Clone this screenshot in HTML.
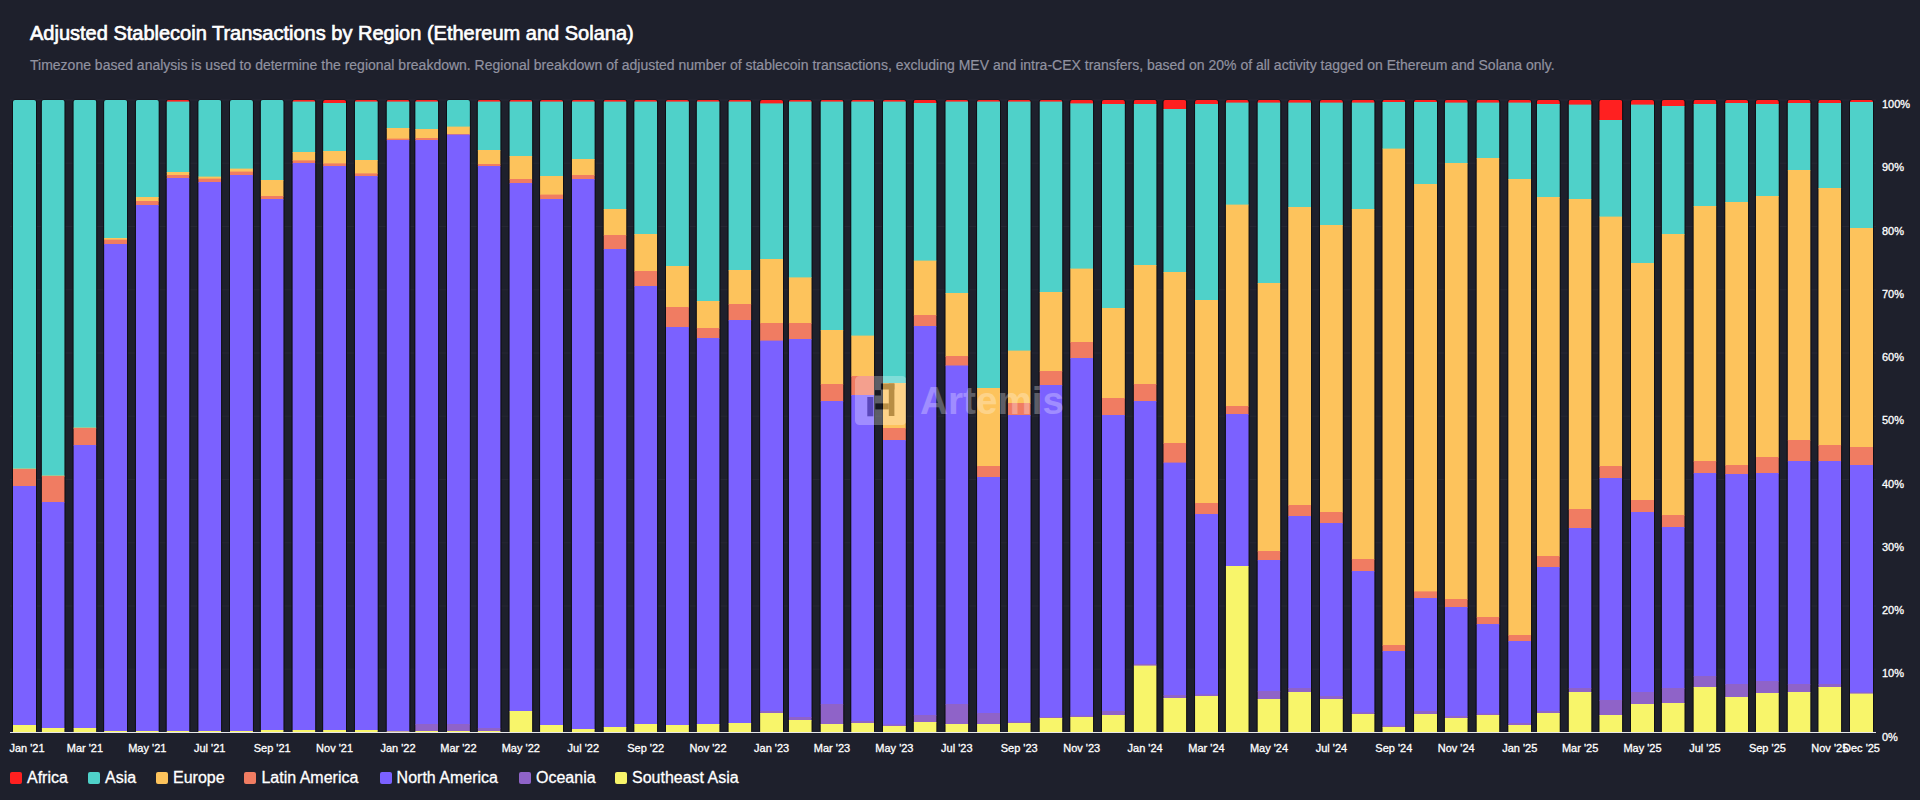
<!DOCTYPE html>
<html><head><meta charset="utf-8"><title>Adjusted Stablecoin Transactions by Region</title>
<style>
html,body{margin:0;padding:0;background:#1e202c;}
body{width:1920px;height:800px;position:relative;overflow:hidden;font-family:"Liberation Sans",Arial,Helvetica,sans-serif;color:#fff;}
.title{position:absolute;left:30px;top:21.3px;font-size:20px;line-height:24px;font-weight:400;color:#fff;white-space:nowrap;-webkit-text-stroke:0.65px #fff;}
.sub{position:absolute;left:30px;top:57px;font-size:14px;line-height:16px;color:#9192a0;white-space:nowrap;-webkit-text-stroke:0.2px #9192a0;}
.chart{position:absolute;left:0;top:0;}
.yl,.xl{font-family:"Liberation Sans",Arial,sans-serif;font-size:11px;fill:#fff;stroke:#fff;stroke-width:0.3px;}
.legend{position:absolute;left:10px;top:768px;height:20px;width:900px;font-size:16px;line-height:20px;white-space:nowrap;color:#fff;-webkit-text-stroke:0.3px #fff;}
.li{position:absolute;top:0;height:20px;display:flex;align-items:center;}
.li i{display:block;width:12px;height:12px;border-radius:2px;margin-right:5px;}
.wm{position:absolute;left:854.5px;top:376px;height:49px;display:flex;align-items:center;opacity:.28;}
.wm svg{display:block;}
.wm span{font-size:38.7px;font-weight:700;color:#fff;margin-left:14px;letter-spacing:0;}
</style></head><body>
<div class="title">Adjusted Stablecoin Transactions by Region (Ethereum and Solana)</div>
<div class="sub">Timezone based analysis is used to determine the regional breakdown. Regional breakdown of adjusted number of stablecoin transactions, excluding MEV and intra-CEX transfers, based on 20% of all activity tagged on Ethereum and Solana only.</div>
<svg class="chart" width="1920" height="800" viewBox="0 0 1920 800">
<line x1="10" x2="1876" y1="669.2" y2="669.2" stroke="#262734" stroke-width="1"/>
<line x1="10" x2="1876" y1="606.0" y2="606.0" stroke="#262734" stroke-width="1"/>
<line x1="10" x2="1876" y1="542.8" y2="542.8" stroke="#262734" stroke-width="1"/>
<line x1="10" x2="1876" y1="479.5" y2="479.5" stroke="#262734" stroke-width="1"/>
<line x1="10" x2="1876" y1="416.2" y2="416.2" stroke="#262734" stroke-width="1"/>
<line x1="10" x2="1876" y1="353.0" y2="353.0" stroke="#262734" stroke-width="1"/>
<line x1="10" x2="1876" y1="289.8" y2="289.8" stroke="#262734" stroke-width="1"/>
<line x1="10" x2="1876" y1="226.5" y2="226.5" stroke="#262734" stroke-width="1"/>
<line x1="10" x2="1876" y1="163.2" y2="163.2" stroke="#262734" stroke-width="1"/>
<line x1="10" x2="1876" y1="100.0" y2="100.0" stroke="#262734" stroke-width="1"/>
<defs>
<clipPath id="c0"><path d="M13.00 732.50 V102.00 Q13.00 100.00 15.00 100.00 H34.00 Q36.00 100.00 36.00 102.00 V732.50 Z"/></clipPath>
<clipPath id="c1"><path d="M41.66 732.50 V102.00 Q41.66 100.00 43.66 100.00 H62.66 Q64.66 100.00 64.66 102.00 V732.50 Z"/></clipPath>
<clipPath id="c2"><path d="M73.38 732.50 V102.00 Q73.38 100.00 75.38 100.00 H94.38 Q96.38 100.00 96.38 102.00 V732.50 Z"/></clipPath>
<clipPath id="c3"><path d="M104.08 732.50 V102.00 Q104.08 100.00 106.08 100.00 H125.08 Q127.08 100.00 127.08 102.00 V732.50 Z"/></clipPath>
<clipPath id="c4"><path d="M135.81 732.50 V102.00 Q135.81 100.00 137.81 100.00 H156.81 Q158.81 100.00 158.81 102.00 V732.50 Z"/></clipPath>
<clipPath id="c5"><path d="M166.51 732.50 V102.00 Q166.51 100.00 168.51 100.00 H187.51 Q189.51 100.00 189.51 102.00 V732.50 Z"/></clipPath>
<clipPath id="c6"><path d="M198.24 732.50 V102.00 Q198.24 100.00 200.24 100.00 H219.24 Q221.24 100.00 221.24 102.00 V732.50 Z"/></clipPath>
<clipPath id="c7"><path d="M229.96 732.50 V102.00 Q229.96 100.00 231.96 100.00 H250.96 Q252.96 100.00 252.96 102.00 V732.50 Z"/></clipPath>
<clipPath id="c8"><path d="M260.66 732.50 V102.00 Q260.66 100.00 262.66 100.00 H281.66 Q283.66 100.00 283.66 102.00 V732.50 Z"/></clipPath>
<clipPath id="c9"><path d="M292.39 732.50 V102.00 Q292.39 100.00 294.39 100.00 H313.39 Q315.39 100.00 315.39 102.00 V732.50 Z"/></clipPath>
<clipPath id="c10"><path d="M323.09 732.50 V102.00 Q323.09 100.00 325.09 100.00 H344.09 Q346.09 100.00 346.09 102.00 V732.50 Z"/></clipPath>
<clipPath id="c11"><path d="M354.82 732.50 V102.00 Q354.82 100.00 356.82 100.00 H375.82 Q377.82 100.00 377.82 102.00 V732.50 Z"/></clipPath>
<clipPath id="c12"><path d="M386.54 732.50 V102.00 Q386.54 100.00 388.54 100.00 H407.54 Q409.54 100.00 409.54 102.00 V732.50 Z"/></clipPath>
<clipPath id="c13"><path d="M415.20 732.50 V102.00 Q415.20 100.00 417.20 100.00 H436.20 Q438.20 100.00 438.20 102.00 V732.50 Z"/></clipPath>
<clipPath id="c14"><path d="M446.92 732.50 V102.00 Q446.92 100.00 448.92 100.00 H467.92 Q469.92 100.00 469.92 102.00 V732.50 Z"/></clipPath>
<clipPath id="c15"><path d="M477.62 732.50 V102.00 Q477.62 100.00 479.62 100.00 H498.62 Q500.62 100.00 500.62 102.00 V732.50 Z"/></clipPath>
<clipPath id="c16"><path d="M509.35 732.50 V102.00 Q509.35 100.00 511.35 100.00 H530.35 Q532.35 100.00 532.35 102.00 V732.50 Z"/></clipPath>
<clipPath id="c17"><path d="M540.05 732.50 V102.00 Q540.05 100.00 542.05 100.00 H561.05 Q563.05 100.00 563.05 102.00 V732.50 Z"/></clipPath>
<clipPath id="c18"><path d="M571.78 732.50 V102.00 Q571.78 100.00 573.78 100.00 H592.78 Q594.78 100.00 594.78 102.00 V732.50 Z"/></clipPath>
<clipPath id="c19"><path d="M603.50 732.50 V102.00 Q603.50 100.00 605.50 100.00 H624.50 Q626.50 100.00 626.50 102.00 V732.50 Z"/></clipPath>
<clipPath id="c20"><path d="M634.20 732.50 V102.00 Q634.20 100.00 636.20 100.00 H655.20 Q657.20 100.00 657.20 102.00 V732.50 Z"/></clipPath>
<clipPath id="c21"><path d="M665.93 732.50 V102.00 Q665.93 100.00 667.93 100.00 H686.93 Q688.93 100.00 688.93 102.00 V732.50 Z"/></clipPath>
<clipPath id="c22"><path d="M696.63 732.50 V102.00 Q696.63 100.00 698.63 100.00 H717.63 Q719.63 100.00 719.63 102.00 V732.50 Z"/></clipPath>
<clipPath id="c23"><path d="M728.36 732.50 V102.00 Q728.36 100.00 730.36 100.00 H749.36 Q751.36 100.00 751.36 102.00 V732.50 Z"/></clipPath>
<clipPath id="c24"><path d="M760.08 732.50 V102.00 Q760.08 100.00 762.08 100.00 H781.08 Q783.08 100.00 783.08 102.00 V732.50 Z"/></clipPath>
<clipPath id="c25"><path d="M788.74 732.50 V102.00 Q788.74 100.00 790.74 100.00 H809.74 Q811.74 100.00 811.74 102.00 V732.50 Z"/></clipPath>
<clipPath id="c26"><path d="M820.46 732.50 V102.00 Q820.46 100.00 822.46 100.00 H841.46 Q843.46 100.00 843.46 102.00 V732.50 Z"/></clipPath>
<clipPath id="c27"><path d="M851.16 732.50 V102.00 Q851.16 100.00 853.16 100.00 H872.16 Q874.16 100.00 874.16 102.00 V732.50 Z"/></clipPath>
<clipPath id="c28"><path d="M882.89 732.50 V102.00 Q882.89 100.00 884.89 100.00 H903.89 Q905.89 100.00 905.89 102.00 V732.50 Z"/></clipPath>
<clipPath id="c29"><path d="M913.59 732.50 V102.00 Q913.59 100.00 915.59 100.00 H934.59 Q936.59 100.00 936.59 102.00 V732.50 Z"/></clipPath>
<clipPath id="c30"><path d="M945.32 732.50 V102.00 Q945.32 100.00 947.32 100.00 H966.32 Q968.32 100.00 968.32 102.00 V732.50 Z"/></clipPath>
<clipPath id="c31"><path d="M977.04 732.50 V102.00 Q977.04 100.00 979.04 100.00 H998.04 Q1000.04 100.00 1000.04 102.00 V732.50 Z"/></clipPath>
<clipPath id="c32"><path d="M1007.74 732.50 V102.00 Q1007.74 100.00 1009.74 100.00 H1028.74 Q1030.74 100.00 1030.74 102.00 V732.50 Z"/></clipPath>
<clipPath id="c33"><path d="M1039.47 732.50 V102.00 Q1039.47 100.00 1041.47 100.00 H1060.47 Q1062.47 100.00 1062.47 102.00 V732.50 Z"/></clipPath>
<clipPath id="c34"><path d="M1070.17 732.50 V102.00 Q1070.17 100.00 1072.17 100.00 H1091.17 Q1093.17 100.00 1093.17 102.00 V732.50 Z"/></clipPath>
<clipPath id="c35"><path d="M1101.90 732.50 V102.00 Q1101.90 100.00 1103.90 100.00 H1122.90 Q1124.90 100.00 1124.90 102.00 V732.50 Z"/></clipPath>
<clipPath id="c36"><path d="M1133.62 732.50 V102.00 Q1133.62 100.00 1135.62 100.00 H1154.62 Q1156.62 100.00 1156.62 102.00 V732.50 Z"/></clipPath>
<clipPath id="c37"><path d="M1163.30 732.50 V102.00 Q1163.30 100.00 1165.30 100.00 H1184.30 Q1186.30 100.00 1186.30 102.00 V732.50 Z"/></clipPath>
<clipPath id="c38"><path d="M1195.03 732.50 V102.00 Q1195.03 100.00 1197.03 100.00 H1216.03 Q1218.03 100.00 1218.03 102.00 V732.50 Z"/></clipPath>
<clipPath id="c39"><path d="M1225.73 732.50 V102.00 Q1225.73 100.00 1227.73 100.00 H1246.73 Q1248.73 100.00 1248.73 102.00 V732.50 Z"/></clipPath>
<clipPath id="c40"><path d="M1257.45 732.50 V102.00 Q1257.45 100.00 1259.45 100.00 H1278.45 Q1280.45 100.00 1280.45 102.00 V732.50 Z"/></clipPath>
<clipPath id="c41"><path d="M1288.16 732.50 V102.00 Q1288.16 100.00 1290.16 100.00 H1309.16 Q1311.16 100.00 1311.16 102.00 V732.50 Z"/></clipPath>
<clipPath id="c42"><path d="M1319.88 732.50 V102.00 Q1319.88 100.00 1321.88 100.00 H1340.88 Q1342.88 100.00 1342.88 102.00 V732.50 Z"/></clipPath>
<clipPath id="c43"><path d="M1351.61 732.50 V102.00 Q1351.61 100.00 1353.61 100.00 H1372.61 Q1374.61 100.00 1374.61 102.00 V732.50 Z"/></clipPath>
<clipPath id="c44"><path d="M1382.31 732.50 V102.00 Q1382.31 100.00 1384.31 100.00 H1403.31 Q1405.31 100.00 1405.31 102.00 V732.50 Z"/></clipPath>
<clipPath id="c45"><path d="M1414.03 732.50 V102.00 Q1414.03 100.00 1416.03 100.00 H1435.03 Q1437.03 100.00 1437.03 102.00 V732.50 Z"/></clipPath>
<clipPath id="c46"><path d="M1444.74 732.50 V102.00 Q1444.74 100.00 1446.74 100.00 H1465.74 Q1467.74 100.00 1467.74 102.00 V732.50 Z"/></clipPath>
<clipPath id="c47"><path d="M1476.46 732.50 V102.00 Q1476.46 100.00 1478.46 100.00 H1497.46 Q1499.46 100.00 1499.46 102.00 V732.50 Z"/></clipPath>
<clipPath id="c48"><path d="M1508.19 732.50 V102.00 Q1508.19 100.00 1510.19 100.00 H1529.19 Q1531.19 100.00 1531.19 102.00 V732.50 Z"/></clipPath>
<clipPath id="c49"><path d="M1536.84 732.50 V102.00 Q1536.84 100.00 1538.84 100.00 H1557.84 Q1559.84 100.00 1559.84 102.00 V732.50 Z"/></clipPath>
<clipPath id="c50"><path d="M1568.57 732.50 V102.00 Q1568.57 100.00 1570.57 100.00 H1589.57 Q1591.57 100.00 1591.57 102.00 V732.50 Z"/></clipPath>
<clipPath id="c51"><path d="M1599.27 732.50 V102.00 Q1599.27 100.00 1601.27 100.00 H1620.27 Q1622.27 100.00 1622.27 102.00 V732.50 Z"/></clipPath>
<clipPath id="c52"><path d="M1631.00 732.50 V102.00 Q1631.00 100.00 1633.00 100.00 H1652.00 Q1654.00 100.00 1654.00 102.00 V732.50 Z"/></clipPath>
<clipPath id="c53"><path d="M1661.70 732.50 V102.00 Q1661.70 100.00 1663.70 100.00 H1682.70 Q1684.70 100.00 1684.70 102.00 V732.50 Z"/></clipPath>
<clipPath id="c54"><path d="M1693.42 732.50 V102.00 Q1693.42 100.00 1695.42 100.00 H1714.42 Q1716.42 100.00 1716.42 102.00 V732.50 Z"/></clipPath>
<clipPath id="c55"><path d="M1725.15 732.50 V102.00 Q1725.15 100.00 1727.15 100.00 H1746.15 Q1748.15 100.00 1748.15 102.00 V732.50 Z"/></clipPath>
<clipPath id="c56"><path d="M1755.85 732.50 V102.00 Q1755.85 100.00 1757.85 100.00 H1776.85 Q1778.85 100.00 1778.85 102.00 V732.50 Z"/></clipPath>
<clipPath id="c57"><path d="M1787.58 732.50 V102.00 Q1787.58 100.00 1789.58 100.00 H1808.58 Q1810.58 100.00 1810.58 102.00 V732.50 Z"/></clipPath>
<clipPath id="c58"><path d="M1818.28 732.50 V102.00 Q1818.28 100.00 1820.28 100.00 H1839.28 Q1841.28 100.00 1841.28 102.00 V732.50 Z"/></clipPath>
<clipPath id="c59"><path d="M1850.00 732.50 V102.00 Q1850.00 100.00 1852.00 100.00 H1871.00 Q1873.00 100.00 1873.00 102.00 V732.50 Z"/></clipPath>
</defs>
<rect x="12.10" y="99.40" width="24.80" height="633.10" rx="3" fill="#0f0f15"/>
<g clip-path="url(#c0)">
<rect x="13.00" y="100.00" width="23" height="369.20" fill="#4fd1c9"/>
<rect x="13.00" y="468.60" width="23" height="1.00" fill="#fdc35c"/>
<rect x="13.00" y="469.00" width="23" height="17.60" fill="#f07c62"/>
<rect x="13.00" y="486.00" width="23" height="239.60" fill="#7b61ff"/>
<rect x="13.00" y="725.00" width="23" height="7.50" fill="#f8f56a"/>
</g>
<rect x="40.76" y="99.40" width="24.80" height="633.10" rx="3" fill="#0f0f15"/>
<g clip-path="url(#c1)">
<rect x="41.66" y="100.00" width="23" height="376.20" fill="#4fd1c9"/>
<rect x="41.66" y="475.60" width="23" height="1.00" fill="#fdc35c"/>
<rect x="41.66" y="476.00" width="23" height="26.60" fill="#f07c62"/>
<rect x="41.66" y="502.00" width="23" height="226.60" fill="#7b61ff"/>
<rect x="41.66" y="728.00" width="23" height="4.50" fill="#f8f56a"/>
</g>
<rect x="72.48" y="99.40" width="24.80" height="633.10" rx="3" fill="#0f0f15"/>
<g clip-path="url(#c2)">
<rect x="73.38" y="100.00" width="23" height="328.20" fill="#4fd1c9"/>
<rect x="73.38" y="427.60" width="23" height="1.00" fill="#fdc35c"/>
<rect x="73.38" y="428.00" width="23" height="17.60" fill="#f07c62"/>
<rect x="73.38" y="445.00" width="23" height="283.60" fill="#7b61ff"/>
<rect x="73.38" y="728.00" width="23" height="4.50" fill="#f8f56a"/>
</g>
<rect x="103.18" y="99.40" width="24.80" height="633.10" rx="3" fill="#0f0f15"/>
<g clip-path="url(#c3)">
<rect x="104.08" y="100.00" width="23" height="138.60" fill="#4fd1c9"/>
<rect x="104.08" y="238.00" width="23" height="2.20" fill="#fdc35c"/>
<rect x="104.08" y="239.60" width="23" height="5.00" fill="#f07c62"/>
<rect x="104.08" y="244.00" width="23" height="487.60" fill="#7b61ff"/>
<rect x="104.08" y="731.00" width="23" height="1.50" fill="#f8f56a"/>
</g>
<rect x="134.91" y="99.40" width="24.80" height="633.10" rx="3" fill="#0f0f15"/>
<g clip-path="url(#c4)">
<rect x="135.81" y="100.00" width="23" height="97.60" fill="#4fd1c9"/>
<rect x="135.81" y="197.00" width="23" height="4.60" fill="#fdc35c"/>
<rect x="135.81" y="201.00" width="23" height="4.60" fill="#f07c62"/>
<rect x="135.81" y="205.00" width="23" height="526.60" fill="#7b61ff"/>
<rect x="135.81" y="731.00" width="23" height="1.50" fill="#f8f56a"/>
</g>
<rect x="165.61" y="99.40" width="24.80" height="633.10" rx="3" fill="#0f0f15"/>
<g clip-path="url(#c5)">
<rect x="166.51" y="100.00" width="23" height="2.20" fill="#ff2020"/>
<rect x="166.51" y="101.60" width="23" height="71.00" fill="#4fd1c9"/>
<rect x="166.51" y="172.00" width="23" height="3.60" fill="#fdc35c"/>
<rect x="166.51" y="175.00" width="23" height="3.60" fill="#f07c62"/>
<rect x="166.51" y="178.00" width="23" height="553.60" fill="#7b61ff"/>
<rect x="166.51" y="731.00" width="23" height="1.50" fill="#f8f56a"/>
</g>
<rect x="197.34" y="99.40" width="24.80" height="633.10" rx="3" fill="#0f0f15"/>
<g clip-path="url(#c6)">
<rect x="198.24" y="100.00" width="23" height="77.20" fill="#4fd1c9"/>
<rect x="198.24" y="176.60" width="23" height="2.60" fill="#fdc35c"/>
<rect x="198.24" y="178.60" width="23" height="4.00" fill="#f07c62"/>
<rect x="198.24" y="182.00" width="23" height="549.60" fill="#7b61ff"/>
<rect x="198.24" y="731.00" width="23" height="1.50" fill="#f8f56a"/>
</g>
<rect x="229.06" y="99.40" width="24.80" height="633.10" rx="3" fill="#0f0f15"/>
<g clip-path="url(#c7)">
<rect x="229.96" y="100.00" width="23" height="69.20" fill="#4fd1c9"/>
<rect x="229.96" y="168.60" width="23" height="3.60" fill="#fdc35c"/>
<rect x="229.96" y="171.60" width="23" height="4.00" fill="#f07c62"/>
<rect x="229.96" y="175.00" width="23" height="556.60" fill="#7b61ff"/>
<rect x="229.96" y="731.00" width="23" height="1.50" fill="#f8f56a"/>
</g>
<rect x="259.76" y="99.40" width="24.80" height="633.10" rx="3" fill="#0f0f15"/>
<g clip-path="url(#c8)">
<rect x="260.66" y="100.00" width="23" height="80.60" fill="#4fd1c9"/>
<rect x="260.66" y="180.00" width="23" height="16.60" fill="#fdc35c"/>
<rect x="260.66" y="196.00" width="23" height="3.60" fill="#f07c62"/>
<rect x="260.66" y="199.00" width="23" height="531.60" fill="#7b61ff"/>
<rect x="260.66" y="730.00" width="23" height="2.50" fill="#f8f56a"/>
</g>
<rect x="291.49" y="99.40" width="24.80" height="633.10" rx="3" fill="#0f0f15"/>
<g clip-path="url(#c9)">
<rect x="292.39" y="100.00" width="23" height="2.20" fill="#ff2020"/>
<rect x="292.39" y="101.60" width="23" height="51.00" fill="#4fd1c9"/>
<rect x="292.39" y="152.00" width="23" height="9.00" fill="#fdc35c"/>
<rect x="292.39" y="160.40" width="23" height="3.20" fill="#f07c62"/>
<rect x="292.39" y="163.00" width="23" height="567.60" fill="#7b61ff"/>
<rect x="292.39" y="730.00" width="23" height="2.50" fill="#f8f56a"/>
</g>
<rect x="322.19" y="99.40" width="24.80" height="633.10" rx="3" fill="#0f0f15"/>
<g clip-path="url(#c10)">
<rect x="323.09" y="100.00" width="23" height="3.60" fill="#ff2020"/>
<rect x="323.09" y="103.00" width="23" height="48.60" fill="#4fd1c9"/>
<rect x="323.09" y="151.00" width="23" height="13.00" fill="#fdc35c"/>
<rect x="323.09" y="163.40" width="23" height="3.20" fill="#f07c62"/>
<rect x="323.09" y="166.00" width="23" height="564.60" fill="#7b61ff"/>
<rect x="323.09" y="730.00" width="23" height="2.50" fill="#f8f56a"/>
</g>
<rect x="353.92" y="99.40" width="24.80" height="633.10" rx="3" fill="#0f0f15"/>
<g clip-path="url(#c11)">
<rect x="354.82" y="100.00" width="23" height="2.20" fill="#ff2020"/>
<rect x="354.82" y="101.60" width="23" height="59.00" fill="#4fd1c9"/>
<rect x="354.82" y="160.00" width="23" height="14.00" fill="#fdc35c"/>
<rect x="354.82" y="173.40" width="23" height="3.20" fill="#f07c62"/>
<rect x="354.82" y="176.00" width="23" height="554.60" fill="#7b61ff"/>
<rect x="354.82" y="730.00" width="23" height="2.50" fill="#f8f56a"/>
</g>
<rect x="385.64" y="99.40" width="24.80" height="633.10" rx="3" fill="#0f0f15"/>
<g clip-path="url(#c12)">
<rect x="386.54" y="100.00" width="23" height="2.20" fill="#ff2020"/>
<rect x="386.54" y="101.60" width="23" height="27.00" fill="#4fd1c9"/>
<rect x="386.54" y="128.00" width="23" height="11.20" fill="#fdc35c"/>
<rect x="386.54" y="138.60" width="23" height="2.00" fill="#f07c62"/>
<rect x="386.54" y="140.00" width="23" height="591.60" fill="#7b61ff"/>
<rect x="386.54" y="731.00" width="23" height="1.10" fill="#8f63c8"/>
<rect x="386.54" y="731.50" width="23" height="1.00" fill="#f8f56a"/>
</g>
<rect x="414.30" y="99.40" width="24.80" height="633.10" rx="3" fill="#0f0f15"/>
<g clip-path="url(#c13)">
<rect x="415.20" y="100.00" width="23" height="2.20" fill="#ff2020"/>
<rect x="415.20" y="101.60" width="23" height="28.00" fill="#4fd1c9"/>
<rect x="415.20" y="129.00" width="23" height="9.60" fill="#fdc35c"/>
<rect x="415.20" y="138.00" width="23" height="2.60" fill="#f07c62"/>
<rect x="415.20" y="140.00" width="23" height="584.60" fill="#7b61ff"/>
<rect x="415.20" y="724.00" width="23" height="7.60" fill="#8f63c8"/>
<rect x="415.20" y="731.00" width="23" height="1.50" fill="#f8f56a"/>
</g>
<rect x="446.02" y="99.40" width="24.80" height="633.10" rx="3" fill="#0f0f15"/>
<g clip-path="url(#c14)">
<rect x="446.92" y="100.00" width="23" height="27.20" fill="#4fd1c9"/>
<rect x="446.92" y="126.60" width="23" height="8.00" fill="#fdc35c"/>
<rect x="446.92" y="134.00" width="23" height="1.20" fill="#f07c62"/>
<rect x="446.92" y="134.60" width="23" height="590.00" fill="#7b61ff"/>
<rect x="446.92" y="724.00" width="23" height="7.60" fill="#8f63c8"/>
<rect x="446.92" y="731.00" width="23" height="1.50" fill="#f8f56a"/>
</g>
<rect x="476.72" y="99.40" width="24.80" height="633.10" rx="3" fill="#0f0f15"/>
<g clip-path="url(#c15)">
<rect x="477.62" y="100.00" width="23" height="2.20" fill="#ff2020"/>
<rect x="477.62" y="101.60" width="23" height="49.00" fill="#4fd1c9"/>
<rect x="477.62" y="150.00" width="23" height="14.60" fill="#fdc35c"/>
<rect x="477.62" y="164.00" width="23" height="2.60" fill="#f07c62"/>
<rect x="477.62" y="166.00" width="23" height="562.60" fill="#7b61ff"/>
<rect x="477.62" y="728.00" width="23" height="3.60" fill="#8f63c8"/>
<rect x="477.62" y="731.00" width="23" height="1.50" fill="#f8f56a"/>
</g>
<rect x="508.45" y="99.40" width="24.80" height="633.10" rx="3" fill="#0f0f15"/>
<g clip-path="url(#c16)">
<rect x="509.35" y="100.00" width="23" height="2.20" fill="#ff2020"/>
<rect x="509.35" y="101.60" width="23" height="55.00" fill="#4fd1c9"/>
<rect x="509.35" y="156.00" width="23" height="23.60" fill="#fdc35c"/>
<rect x="509.35" y="179.00" width="23" height="4.60" fill="#f07c62"/>
<rect x="509.35" y="183.00" width="23" height="528.60" fill="#7b61ff"/>
<rect x="509.35" y="711.00" width="23" height="21.50" fill="#f8f56a"/>
</g>
<rect x="539.15" y="99.40" width="24.80" height="633.10" rx="3" fill="#0f0f15"/>
<g clip-path="url(#c17)">
<rect x="540.05" y="100.00" width="23" height="2.20" fill="#ff2020"/>
<rect x="540.05" y="101.60" width="23" height="75.00" fill="#4fd1c9"/>
<rect x="540.05" y="176.00" width="23" height="19.20" fill="#fdc35c"/>
<rect x="540.05" y="194.60" width="23" height="5.00" fill="#f07c62"/>
<rect x="540.05" y="199.00" width="23" height="526.60" fill="#7b61ff"/>
<rect x="540.05" y="725.00" width="23" height="7.50" fill="#f8f56a"/>
</g>
<rect x="570.88" y="99.40" width="24.80" height="633.10" rx="3" fill="#0f0f15"/>
<g clip-path="url(#c18)">
<rect x="571.78" y="100.00" width="23" height="2.20" fill="#ff2020"/>
<rect x="571.78" y="101.60" width="23" height="58.00" fill="#4fd1c9"/>
<rect x="571.78" y="159.00" width="23" height="16.60" fill="#fdc35c"/>
<rect x="571.78" y="175.00" width="23" height="4.60" fill="#f07c62"/>
<rect x="571.78" y="179.00" width="23" height="550.60" fill="#7b61ff"/>
<rect x="571.78" y="729.00" width="23" height="3.50" fill="#f8f56a"/>
</g>
<rect x="602.60" y="99.40" width="24.80" height="633.10" rx="3" fill="#0f0f15"/>
<g clip-path="url(#c19)">
<rect x="603.50" y="100.00" width="23" height="2.20" fill="#ff2020"/>
<rect x="603.50" y="101.60" width="23" height="108.00" fill="#4fd1c9"/>
<rect x="603.50" y="209.00" width="23" height="26.60" fill="#fdc35c"/>
<rect x="603.50" y="235.00" width="23" height="14.60" fill="#f07c62"/>
<rect x="603.50" y="249.00" width="23" height="478.60" fill="#7b61ff"/>
<rect x="603.50" y="727.00" width="23" height="5.50" fill="#f8f56a"/>
</g>
<rect x="633.30" y="99.40" width="24.80" height="633.10" rx="3" fill="#0f0f15"/>
<g clip-path="url(#c20)">
<rect x="634.20" y="100.00" width="23" height="2.20" fill="#ff2020"/>
<rect x="634.20" y="101.60" width="23" height="133.00" fill="#4fd1c9"/>
<rect x="634.20" y="234.00" width="23" height="37.60" fill="#fdc35c"/>
<rect x="634.20" y="271.00" width="23" height="15.60" fill="#f07c62"/>
<rect x="634.20" y="286.00" width="23" height="438.60" fill="#7b61ff"/>
<rect x="634.20" y="724.00" width="23" height="8.50" fill="#f8f56a"/>
</g>
<rect x="665.03" y="99.40" width="24.80" height="633.10" rx="3" fill="#0f0f15"/>
<g clip-path="url(#c21)">
<rect x="665.93" y="100.00" width="23" height="2.20" fill="#ff2020"/>
<rect x="665.93" y="101.60" width="23" height="165.00" fill="#4fd1c9"/>
<rect x="665.93" y="266.00" width="23" height="41.60" fill="#fdc35c"/>
<rect x="665.93" y="307.00" width="23" height="20.60" fill="#f07c62"/>
<rect x="665.93" y="327.00" width="23" height="398.60" fill="#7b61ff"/>
<rect x="665.93" y="725.00" width="23" height="7.50" fill="#f8f56a"/>
</g>
<rect x="695.73" y="99.40" width="24.80" height="633.10" rx="3" fill="#0f0f15"/>
<g clip-path="url(#c22)">
<rect x="696.63" y="100.00" width="23" height="2.20" fill="#ff2020"/>
<rect x="696.63" y="101.60" width="23" height="200.00" fill="#4fd1c9"/>
<rect x="696.63" y="301.00" width="23" height="27.60" fill="#fdc35c"/>
<rect x="696.63" y="328.00" width="23" height="10.60" fill="#f07c62"/>
<rect x="696.63" y="338.00" width="23" height="386.60" fill="#7b61ff"/>
<rect x="696.63" y="724.00" width="23" height="8.50" fill="#f8f56a"/>
</g>
<rect x="727.46" y="99.40" width="24.80" height="633.10" rx="3" fill="#0f0f15"/>
<g clip-path="url(#c23)">
<rect x="728.36" y="100.00" width="23" height="2.20" fill="#ff2020"/>
<rect x="728.36" y="101.60" width="23" height="169.00" fill="#4fd1c9"/>
<rect x="728.36" y="270.00" width="23" height="34.60" fill="#fdc35c"/>
<rect x="728.36" y="304.00" width="23" height="16.60" fill="#f07c62"/>
<rect x="728.36" y="320.00" width="23" height="403.60" fill="#7b61ff"/>
<rect x="728.36" y="723.00" width="23" height="9.50" fill="#f8f56a"/>
</g>
<rect x="759.18" y="99.40" width="24.80" height="633.10" rx="3" fill="#0f0f15"/>
<g clip-path="url(#c24)">
<rect x="760.08" y="100.00" width="23" height="4.00" fill="#ff2020"/>
<rect x="760.08" y="103.40" width="23" height="156.20" fill="#4fd1c9"/>
<rect x="760.08" y="259.00" width="23" height="64.60" fill="#fdc35c"/>
<rect x="760.08" y="323.00" width="23" height="18.20" fill="#f07c62"/>
<rect x="760.08" y="340.60" width="23" height="371.00" fill="#7b61ff"/>
<rect x="760.08" y="711.00" width="23" height="2.60" fill="#8f63c8"/>
<rect x="760.08" y="713.00" width="23" height="19.50" fill="#f8f56a"/>
</g>
<rect x="787.84" y="99.40" width="24.80" height="633.10" rx="3" fill="#0f0f15"/>
<g clip-path="url(#c25)">
<rect x="788.74" y="100.00" width="23" height="2.20" fill="#ff2020"/>
<rect x="788.74" y="101.60" width="23" height="176.40" fill="#4fd1c9"/>
<rect x="788.74" y="277.40" width="23" height="46.20" fill="#fdc35c"/>
<rect x="788.74" y="323.00" width="23" height="16.60" fill="#f07c62"/>
<rect x="788.74" y="339.00" width="23" height="378.60" fill="#7b61ff"/>
<rect x="788.74" y="717.00" width="23" height="3.60" fill="#8f63c8"/>
<rect x="788.74" y="720.00" width="23" height="12.50" fill="#f8f56a"/>
</g>
<rect x="819.56" y="99.40" width="24.80" height="633.10" rx="3" fill="#0f0f15"/>
<g clip-path="url(#c26)">
<rect x="820.46" y="100.00" width="23" height="2.20" fill="#ff2020"/>
<rect x="820.46" y="101.60" width="23" height="229.00" fill="#4fd1c9"/>
<rect x="820.46" y="330.00" width="23" height="54.60" fill="#fdc35c"/>
<rect x="820.46" y="384.00" width="23" height="17.60" fill="#f07c62"/>
<rect x="820.46" y="401.00" width="23" height="303.60" fill="#7b61ff"/>
<rect x="820.46" y="704.00" width="23" height="20.60" fill="#8f63c8"/>
<rect x="820.46" y="724.00" width="23" height="8.50" fill="#f8f56a"/>
</g>
<rect x="850.26" y="99.40" width="24.80" height="633.10" rx="3" fill="#0f0f15"/>
<g clip-path="url(#c27)">
<rect x="851.16" y="100.00" width="23" height="2.20" fill="#ff2020"/>
<rect x="851.16" y="101.60" width="23" height="234.60" fill="#4fd1c9"/>
<rect x="851.16" y="335.60" width="23" height="41.00" fill="#fdc35c"/>
<rect x="851.16" y="376.00" width="23" height="19.60" fill="#f07c62"/>
<rect x="851.16" y="395.00" width="23" height="326.60" fill="#7b61ff"/>
<rect x="851.16" y="721.00" width="23" height="2.60" fill="#8f63c8"/>
<rect x="851.16" y="723.00" width="23" height="9.50" fill="#f8f56a"/>
</g>
<rect x="881.99" y="99.40" width="24.80" height="633.10" rx="3" fill="#0f0f15"/>
<g clip-path="url(#c28)">
<rect x="882.89" y="100.00" width="23" height="2.20" fill="#ff2020"/>
<rect x="882.89" y="101.60" width="23" height="282.00" fill="#4fd1c9"/>
<rect x="882.89" y="383.00" width="23" height="45.60" fill="#fdc35c"/>
<rect x="882.89" y="428.00" width="23" height="12.60" fill="#f07c62"/>
<rect x="882.89" y="440.00" width="23" height="285.10" fill="#7b61ff"/>
<rect x="882.89" y="724.50" width="23" height="2.10" fill="#8f63c8"/>
<rect x="882.89" y="726.00" width="23" height="6.50" fill="#f8f56a"/>
</g>
<rect x="912.69" y="99.40" width="24.80" height="633.10" rx="3" fill="#0f0f15"/>
<g clip-path="url(#c29)">
<rect x="913.59" y="100.00" width="23" height="3.60" fill="#ff2020"/>
<rect x="913.59" y="103.00" width="23" height="158.20" fill="#4fd1c9"/>
<rect x="913.59" y="260.60" width="23" height="55.00" fill="#fdc35c"/>
<rect x="913.59" y="315.00" width="23" height="11.60" fill="#f07c62"/>
<rect x="913.59" y="326.00" width="23" height="389.60" fill="#7b61ff"/>
<rect x="913.59" y="715.00" width="23" height="7.60" fill="#8f63c8"/>
<rect x="913.59" y="722.00" width="23" height="10.50" fill="#f8f56a"/>
</g>
<rect x="944.42" y="99.40" width="24.80" height="633.10" rx="3" fill="#0f0f15"/>
<g clip-path="url(#c30)">
<rect x="945.32" y="100.00" width="23" height="2.20" fill="#ff2020"/>
<rect x="945.32" y="101.60" width="23" height="192.00" fill="#4fd1c9"/>
<rect x="945.32" y="293.00" width="23" height="63.60" fill="#fdc35c"/>
<rect x="945.32" y="356.00" width="23" height="10.10" fill="#f07c62"/>
<rect x="945.32" y="365.50" width="23" height="339.10" fill="#7b61ff"/>
<rect x="945.32" y="704.00" width="23" height="20.60" fill="#8f63c8"/>
<rect x="945.32" y="724.00" width="23" height="8.50" fill="#f8f56a"/>
</g>
<rect x="976.14" y="99.40" width="24.80" height="633.10" rx="3" fill="#0f0f15"/>
<g clip-path="url(#c31)">
<rect x="977.04" y="100.00" width="23" height="2.20" fill="#ff2020"/>
<rect x="977.04" y="101.60" width="23" height="287.00" fill="#4fd1c9"/>
<rect x="977.04" y="388.00" width="23" height="78.60" fill="#fdc35c"/>
<rect x="977.04" y="466.00" width="23" height="11.60" fill="#f07c62"/>
<rect x="977.04" y="477.00" width="23" height="236.60" fill="#7b61ff"/>
<rect x="977.04" y="713.00" width="23" height="11.60" fill="#8f63c8"/>
<rect x="977.04" y="724.00" width="23" height="8.50" fill="#f8f56a"/>
</g>
<rect x="1006.84" y="99.40" width="24.80" height="633.10" rx="3" fill="#0f0f15"/>
<g clip-path="url(#c32)">
<rect x="1007.74" y="100.00" width="23" height="2.20" fill="#ff2020"/>
<rect x="1007.74" y="101.60" width="23" height="249.60" fill="#4fd1c9"/>
<rect x="1007.74" y="350.60" width="23" height="53.00" fill="#fdc35c"/>
<rect x="1007.74" y="403.00" width="23" height="12.60" fill="#f07c62"/>
<rect x="1007.74" y="415.00" width="23" height="307.20" fill="#7b61ff"/>
<rect x="1007.74" y="721.60" width="23" height="2.00" fill="#8f63c8"/>
<rect x="1007.74" y="723.00" width="23" height="9.50" fill="#f8f56a"/>
</g>
<rect x="1038.57" y="99.40" width="24.80" height="633.10" rx="3" fill="#0f0f15"/>
<g clip-path="url(#c33)">
<rect x="1039.47" y="100.00" width="23" height="2.20" fill="#ff2020"/>
<rect x="1039.47" y="101.60" width="23" height="191.00" fill="#4fd1c9"/>
<rect x="1039.47" y="292.00" width="23" height="79.60" fill="#fdc35c"/>
<rect x="1039.47" y="371.00" width="23" height="14.60" fill="#f07c62"/>
<rect x="1039.47" y="385.00" width="23" height="332.60" fill="#7b61ff"/>
<rect x="1039.47" y="717.00" width="23" height="1.60" fill="#8f63c8"/>
<rect x="1039.47" y="718.00" width="23" height="14.50" fill="#f8f56a"/>
</g>
<rect x="1069.27" y="99.40" width="24.80" height="633.10" rx="3" fill="#0f0f15"/>
<g clip-path="url(#c34)">
<rect x="1070.17" y="100.00" width="23" height="4.00" fill="#ff2020"/>
<rect x="1070.17" y="103.40" width="23" height="165.80" fill="#4fd1c9"/>
<rect x="1070.17" y="268.60" width="23" height="74.00" fill="#fdc35c"/>
<rect x="1070.17" y="342.00" width="23" height="16.60" fill="#f07c62"/>
<rect x="1070.17" y="358.00" width="23" height="358.20" fill="#7b61ff"/>
<rect x="1070.17" y="715.60" width="23" height="2.00" fill="#8f63c8"/>
<rect x="1070.17" y="717.00" width="23" height="15.50" fill="#f8f56a"/>
</g>
<rect x="1101.00" y="99.40" width="24.80" height="633.10" rx="3" fill="#0f0f15"/>
<g clip-path="url(#c35)">
<rect x="1101.90" y="100.00" width="23" height="4.60" fill="#ff2020"/>
<rect x="1101.90" y="104.00" width="23" height="204.60" fill="#4fd1c9"/>
<rect x="1101.90" y="308.00" width="23" height="90.60" fill="#fdc35c"/>
<rect x="1101.90" y="398.00" width="23" height="17.60" fill="#f07c62"/>
<rect x="1101.90" y="415.00" width="23" height="296.60" fill="#7b61ff"/>
<rect x="1101.90" y="711.00" width="23" height="4.60" fill="#8f63c8"/>
<rect x="1101.90" y="715.00" width="23" height="17.50" fill="#f8f56a"/>
</g>
<rect x="1132.72" y="99.40" width="24.80" height="633.10" rx="3" fill="#0f0f15"/>
<g clip-path="url(#c36)">
<rect x="1133.62" y="100.00" width="23" height="4.60" fill="#ff2020"/>
<rect x="1133.62" y="104.00" width="23" height="161.60" fill="#4fd1c9"/>
<rect x="1133.62" y="265.00" width="23" height="119.60" fill="#fdc35c"/>
<rect x="1133.62" y="384.00" width="23" height="17.60" fill="#f07c62"/>
<rect x="1133.62" y="401.00" width="23" height="263.60" fill="#7b61ff"/>
<rect x="1133.62" y="664.00" width="23" height="2.20" fill="#8f63c8"/>
<rect x="1133.62" y="665.60" width="23" height="66.90" fill="#f8f56a"/>
</g>
<rect x="1162.40" y="99.40" width="24.80" height="633.10" rx="3" fill="#0f0f15"/>
<g clip-path="url(#c37)">
<rect x="1163.30" y="100.00" width="23" height="9.60" fill="#ff2020"/>
<rect x="1163.30" y="109.00" width="23" height="163.60" fill="#4fd1c9"/>
<rect x="1163.30" y="272.00" width="23" height="171.60" fill="#fdc35c"/>
<rect x="1163.30" y="443.00" width="23" height="20.20" fill="#f07c62"/>
<rect x="1163.30" y="462.60" width="23" height="233.00" fill="#7b61ff"/>
<rect x="1163.30" y="695.00" width="23" height="3.60" fill="#8f63c8"/>
<rect x="1163.30" y="698.00" width="23" height="34.50" fill="#f8f56a"/>
</g>
<rect x="1194.13" y="99.40" width="24.80" height="633.10" rx="3" fill="#0f0f15"/>
<g clip-path="url(#c38)">
<rect x="1195.03" y="100.00" width="23" height="4.60" fill="#ff2020"/>
<rect x="1195.03" y="104.00" width="23" height="196.60" fill="#4fd1c9"/>
<rect x="1195.03" y="300.00" width="23" height="203.60" fill="#fdc35c"/>
<rect x="1195.03" y="503.00" width="23" height="11.60" fill="#f07c62"/>
<rect x="1195.03" y="514.00" width="23" height="181.00" fill="#7b61ff"/>
<rect x="1195.03" y="694.40" width="23" height="2.20" fill="#8f63c8"/>
<rect x="1195.03" y="696.00" width="23" height="36.50" fill="#f8f56a"/>
</g>
<rect x="1224.83" y="99.40" width="24.80" height="633.10" rx="3" fill="#0f0f15"/>
<g clip-path="url(#c39)">
<rect x="1225.73" y="100.00" width="23" height="3.20" fill="#ff2020"/>
<rect x="1225.73" y="102.60" width="23" height="102.60" fill="#4fd1c9"/>
<rect x="1225.73" y="204.60" width="23" height="202.00" fill="#fdc35c"/>
<rect x="1225.73" y="406.00" width="23" height="8.60" fill="#f07c62"/>
<rect x="1225.73" y="414.00" width="23" height="152.60" fill="#7b61ff"/>
<rect x="1225.73" y="566.00" width="23" height="166.50" fill="#f8f56a"/>
</g>
<rect x="1256.55" y="99.40" width="24.80" height="633.10" rx="3" fill="#0f0f15"/>
<g clip-path="url(#c40)">
<rect x="1257.45" y="100.00" width="23" height="3.20" fill="#ff2020"/>
<rect x="1257.45" y="102.60" width="23" height="181.00" fill="#4fd1c9"/>
<rect x="1257.45" y="283.00" width="23" height="268.60" fill="#fdc35c"/>
<rect x="1257.45" y="551.00" width="23" height="9.60" fill="#f07c62"/>
<rect x="1257.45" y="560.00" width="23" height="131.60" fill="#7b61ff"/>
<rect x="1257.45" y="691.00" width="23" height="8.60" fill="#8f63c8"/>
<rect x="1257.45" y="699.00" width="23" height="33.50" fill="#f8f56a"/>
</g>
<rect x="1287.26" y="99.40" width="24.80" height="633.10" rx="3" fill="#0f0f15"/>
<g clip-path="url(#c41)">
<rect x="1288.16" y="100.00" width="23" height="3.20" fill="#ff2020"/>
<rect x="1288.16" y="102.60" width="23" height="105.00" fill="#4fd1c9"/>
<rect x="1288.16" y="207.00" width="23" height="298.60" fill="#fdc35c"/>
<rect x="1288.16" y="505.00" width="23" height="11.60" fill="#f07c62"/>
<rect x="1288.16" y="516.00" width="23" height="172.60" fill="#7b61ff"/>
<rect x="1288.16" y="688.00" width="23" height="4.60" fill="#8f63c8"/>
<rect x="1288.16" y="692.00" width="23" height="40.50" fill="#f8f56a"/>
</g>
<rect x="1318.98" y="99.40" width="24.80" height="633.10" rx="3" fill="#0f0f15"/>
<g clip-path="url(#c42)">
<rect x="1319.88" y="100.00" width="23" height="3.20" fill="#ff2020"/>
<rect x="1319.88" y="102.60" width="23" height="123.00" fill="#4fd1c9"/>
<rect x="1319.88" y="225.00" width="23" height="287.60" fill="#fdc35c"/>
<rect x="1319.88" y="512.00" width="23" height="11.60" fill="#f07c62"/>
<rect x="1319.88" y="523.00" width="23" height="173.60" fill="#7b61ff"/>
<rect x="1319.88" y="696.00" width="23" height="3.60" fill="#8f63c8"/>
<rect x="1319.88" y="699.00" width="23" height="33.50" fill="#f8f56a"/>
</g>
<rect x="1350.71" y="99.40" width="24.80" height="633.10" rx="3" fill="#0f0f15"/>
<g clip-path="url(#c43)">
<rect x="1351.61" y="100.00" width="23" height="3.20" fill="#ff2020"/>
<rect x="1351.61" y="102.60" width="23" height="107.00" fill="#4fd1c9"/>
<rect x="1351.61" y="209.00" width="23" height="350.60" fill="#fdc35c"/>
<rect x="1351.61" y="559.00" width="23" height="12.60" fill="#f07c62"/>
<rect x="1351.61" y="571.00" width="23" height="142.00" fill="#7b61ff"/>
<rect x="1351.61" y="712.40" width="23" height="2.20" fill="#8f63c8"/>
<rect x="1351.61" y="714.00" width="23" height="18.50" fill="#f8f56a"/>
</g>
<rect x="1381.41" y="99.40" width="24.80" height="633.10" rx="3" fill="#0f0f15"/>
<g clip-path="url(#c44)">
<rect x="1382.31" y="100.00" width="23" height="2.60" fill="#ff2020"/>
<rect x="1382.31" y="102.00" width="23" height="47.20" fill="#4fd1c9"/>
<rect x="1382.31" y="148.60" width="23" height="497.00" fill="#fdc35c"/>
<rect x="1382.31" y="645.00" width="23" height="6.60" fill="#f07c62"/>
<rect x="1382.31" y="651.00" width="23" height="75.20" fill="#7b61ff"/>
<rect x="1382.31" y="725.60" width="23" height="2.00" fill="#8f63c8"/>
<rect x="1382.31" y="727.00" width="23" height="5.50" fill="#f8f56a"/>
</g>
<rect x="1413.13" y="99.40" width="24.80" height="633.10" rx="3" fill="#0f0f15"/>
<g clip-path="url(#c45)">
<rect x="1414.03" y="100.00" width="23" height="2.60" fill="#ff2020"/>
<rect x="1414.03" y="102.00" width="23" height="82.60" fill="#4fd1c9"/>
<rect x="1414.03" y="184.00" width="23" height="408.00" fill="#fdc35c"/>
<rect x="1414.03" y="591.40" width="23" height="7.20" fill="#f07c62"/>
<rect x="1414.03" y="598.00" width="23" height="113.60" fill="#7b61ff"/>
<rect x="1414.03" y="711.00" width="23" height="3.60" fill="#8f63c8"/>
<rect x="1414.03" y="714.00" width="23" height="18.50" fill="#f8f56a"/>
</g>
<rect x="1443.84" y="99.40" width="24.80" height="633.10" rx="3" fill="#0f0f15"/>
<g clip-path="url(#c46)">
<rect x="1444.74" y="100.00" width="23" height="3.20" fill="#ff2020"/>
<rect x="1444.74" y="102.60" width="23" height="61.00" fill="#4fd1c9"/>
<rect x="1444.74" y="163.00" width="23" height="436.60" fill="#fdc35c"/>
<rect x="1444.74" y="599.00" width="23" height="8.60" fill="#f07c62"/>
<rect x="1444.74" y="607.00" width="23" height="109.60" fill="#7b61ff"/>
<rect x="1444.74" y="716.00" width="23" height="2.60" fill="#8f63c8"/>
<rect x="1444.74" y="718.00" width="23" height="14.50" fill="#f8f56a"/>
</g>
<rect x="1475.56" y="99.40" width="24.80" height="633.10" rx="3" fill="#0f0f15"/>
<g clip-path="url(#c47)">
<rect x="1476.46" y="100.00" width="23" height="3.20" fill="#ff2020"/>
<rect x="1476.46" y="102.60" width="23" height="56.00" fill="#4fd1c9"/>
<rect x="1476.46" y="158.00" width="23" height="459.60" fill="#fdc35c"/>
<rect x="1476.46" y="617.00" width="23" height="7.60" fill="#f07c62"/>
<rect x="1476.46" y="624.00" width="23" height="90.20" fill="#7b61ff"/>
<rect x="1476.46" y="713.60" width="23" height="2.00" fill="#8f63c8"/>
<rect x="1476.46" y="715.00" width="23" height="17.50" fill="#f8f56a"/>
</g>
<rect x="1507.29" y="99.40" width="24.80" height="633.10" rx="3" fill="#0f0f15"/>
<g clip-path="url(#c48)">
<rect x="1508.19" y="100.00" width="23" height="3.20" fill="#ff2020"/>
<rect x="1508.19" y="102.60" width="23" height="77.00" fill="#4fd1c9"/>
<rect x="1508.19" y="179.00" width="23" height="456.60" fill="#fdc35c"/>
<rect x="1508.19" y="635.00" width="23" height="6.60" fill="#f07c62"/>
<rect x="1508.19" y="641.00" width="23" height="82.60" fill="#7b61ff"/>
<rect x="1508.19" y="723.00" width="23" height="2.60" fill="#8f63c8"/>
<rect x="1508.19" y="725.00" width="23" height="7.50" fill="#f8f56a"/>
</g>
<rect x="1535.94" y="99.40" width="24.80" height="633.10" rx="3" fill="#0f0f15"/>
<g clip-path="url(#c49)">
<rect x="1536.84" y="100.00" width="23" height="4.60" fill="#ff2020"/>
<rect x="1536.84" y="104.00" width="23" height="93.60" fill="#4fd1c9"/>
<rect x="1536.84" y="197.00" width="23" height="359.60" fill="#fdc35c"/>
<rect x="1536.84" y="556.00" width="23" height="11.60" fill="#f07c62"/>
<rect x="1536.84" y="567.00" width="23" height="144.60" fill="#7b61ff"/>
<rect x="1536.84" y="711.00" width="23" height="2.60" fill="#8f63c8"/>
<rect x="1536.84" y="713.00" width="23" height="19.50" fill="#f8f56a"/>
</g>
<rect x="1567.67" y="99.40" width="24.80" height="633.10" rx="3" fill="#0f0f15"/>
<g clip-path="url(#c50)">
<rect x="1568.57" y="100.00" width="23" height="5.20" fill="#ff2020"/>
<rect x="1568.57" y="104.60" width="23" height="95.00" fill="#4fd1c9"/>
<rect x="1568.57" y="199.00" width="23" height="310.60" fill="#fdc35c"/>
<rect x="1568.57" y="509.00" width="23" height="19.60" fill="#f07c62"/>
<rect x="1568.57" y="528.00" width="23" height="160.60" fill="#7b61ff"/>
<rect x="1568.57" y="688.00" width="23" height="4.60" fill="#8f63c8"/>
<rect x="1568.57" y="692.00" width="23" height="40.50" fill="#f8f56a"/>
</g>
<rect x="1598.37" y="99.40" width="24.80" height="633.10" rx="3" fill="#0f0f15"/>
<g clip-path="url(#c51)">
<rect x="1599.27" y="100.00" width="23" height="20.60" fill="#ff2020"/>
<rect x="1599.27" y="120.00" width="23" height="97.20" fill="#4fd1c9"/>
<rect x="1599.27" y="216.60" width="23" height="250.00" fill="#fdc35c"/>
<rect x="1599.27" y="466.00" width="23" height="12.60" fill="#f07c62"/>
<rect x="1599.27" y="478.00" width="23" height="222.60" fill="#7b61ff"/>
<rect x="1599.27" y="700.00" width="23" height="15.60" fill="#8f63c8"/>
<rect x="1599.27" y="715.00" width="23" height="17.50" fill="#f8f56a"/>
</g>
<rect x="1630.10" y="99.40" width="24.80" height="633.10" rx="3" fill="#0f0f15"/>
<g clip-path="url(#c52)">
<rect x="1631.00" y="100.00" width="23" height="5.20" fill="#ff2020"/>
<rect x="1631.00" y="104.60" width="23" height="159.00" fill="#4fd1c9"/>
<rect x="1631.00" y="263.00" width="23" height="237.60" fill="#fdc35c"/>
<rect x="1631.00" y="500.00" width="23" height="12.60" fill="#f07c62"/>
<rect x="1631.00" y="512.00" width="23" height="180.60" fill="#7b61ff"/>
<rect x="1631.00" y="692.00" width="23" height="12.60" fill="#8f63c8"/>
<rect x="1631.00" y="704.00" width="23" height="28.50" fill="#f8f56a"/>
</g>
<rect x="1660.80" y="99.40" width="24.80" height="633.10" rx="3" fill="#0f0f15"/>
<g clip-path="url(#c53)">
<rect x="1661.70" y="100.00" width="23" height="6.60" fill="#ff2020"/>
<rect x="1661.70" y="106.00" width="23" height="128.60" fill="#4fd1c9"/>
<rect x="1661.70" y="234.00" width="23" height="281.60" fill="#fdc35c"/>
<rect x="1661.70" y="515.00" width="23" height="12.60" fill="#f07c62"/>
<rect x="1661.70" y="527.00" width="23" height="161.60" fill="#7b61ff"/>
<rect x="1661.70" y="688.00" width="23" height="15.60" fill="#8f63c8"/>
<rect x="1661.70" y="703.00" width="23" height="29.50" fill="#f8f56a"/>
</g>
<rect x="1692.52" y="99.40" width="24.80" height="633.10" rx="3" fill="#0f0f15"/>
<g clip-path="url(#c54)">
<rect x="1693.42" y="100.00" width="23" height="4.60" fill="#ff2020"/>
<rect x="1693.42" y="104.00" width="23" height="102.60" fill="#4fd1c9"/>
<rect x="1693.42" y="206.00" width="23" height="255.60" fill="#fdc35c"/>
<rect x="1693.42" y="461.00" width="23" height="12.60" fill="#f07c62"/>
<rect x="1693.42" y="473.00" width="23" height="203.60" fill="#7b61ff"/>
<rect x="1693.42" y="676.00" width="23" height="11.60" fill="#8f63c8"/>
<rect x="1693.42" y="687.00" width="23" height="45.50" fill="#f8f56a"/>
</g>
<rect x="1724.25" y="99.40" width="24.80" height="633.10" rx="3" fill="#0f0f15"/>
<g clip-path="url(#c55)">
<rect x="1725.15" y="100.00" width="23" height="3.60" fill="#ff2020"/>
<rect x="1725.15" y="103.00" width="23" height="99.60" fill="#4fd1c9"/>
<rect x="1725.15" y="202.00" width="23" height="263.60" fill="#fdc35c"/>
<rect x="1725.15" y="465.00" width="23" height="9.60" fill="#f07c62"/>
<rect x="1725.15" y="474.00" width="23" height="210.60" fill="#7b61ff"/>
<rect x="1725.15" y="684.00" width="23" height="13.60" fill="#8f63c8"/>
<rect x="1725.15" y="697.00" width="23" height="35.50" fill="#f8f56a"/>
</g>
<rect x="1754.95" y="99.40" width="24.80" height="633.10" rx="3" fill="#0f0f15"/>
<g clip-path="url(#c56)">
<rect x="1755.85" y="100.00" width="23" height="4.60" fill="#ff2020"/>
<rect x="1755.85" y="104.00" width="23" height="92.60" fill="#4fd1c9"/>
<rect x="1755.85" y="196.00" width="23" height="261.60" fill="#fdc35c"/>
<rect x="1755.85" y="457.00" width="23" height="16.60" fill="#f07c62"/>
<rect x="1755.85" y="473.00" width="23" height="208.60" fill="#7b61ff"/>
<rect x="1755.85" y="681.00" width="23" height="12.60" fill="#8f63c8"/>
<rect x="1755.85" y="693.00" width="23" height="39.50" fill="#f8f56a"/>
</g>
<rect x="1786.68" y="99.40" width="24.80" height="633.10" rx="3" fill="#0f0f15"/>
<g clip-path="url(#c57)">
<rect x="1787.58" y="100.00" width="23" height="3.60" fill="#ff2020"/>
<rect x="1787.58" y="103.00" width="23" height="67.60" fill="#4fd1c9"/>
<rect x="1787.58" y="170.00" width="23" height="270.60" fill="#fdc35c"/>
<rect x="1787.58" y="440.00" width="23" height="21.60" fill="#f07c62"/>
<rect x="1787.58" y="461.00" width="23" height="223.60" fill="#7b61ff"/>
<rect x="1787.58" y="684.00" width="23" height="8.60" fill="#8f63c8"/>
<rect x="1787.58" y="692.00" width="23" height="40.50" fill="#f8f56a"/>
</g>
<rect x="1817.38" y="99.40" width="24.80" height="633.10" rx="3" fill="#0f0f15"/>
<g clip-path="url(#c58)">
<rect x="1818.28" y="100.00" width="23" height="3.60" fill="#ff2020"/>
<rect x="1818.28" y="103.00" width="23" height="85.60" fill="#4fd1c9"/>
<rect x="1818.28" y="188.00" width="23" height="257.60" fill="#fdc35c"/>
<rect x="1818.28" y="445.00" width="23" height="16.60" fill="#f07c62"/>
<rect x="1818.28" y="461.00" width="23" height="223.60" fill="#7b61ff"/>
<rect x="1818.28" y="684.00" width="23" height="3.60" fill="#8f63c8"/>
<rect x="1818.28" y="687.00" width="23" height="45.50" fill="#f8f56a"/>
</g>
<rect x="1849.10" y="99.40" width="24.80" height="633.10" rx="3" fill="#0f0f15"/>
<g clip-path="url(#c59)">
<rect x="1850.00" y="100.00" width="23" height="2.60" fill="#ff2020"/>
<rect x="1850.00" y="102.00" width="23" height="126.60" fill="#4fd1c9"/>
<rect x="1850.00" y="228.00" width="23" height="219.60" fill="#fdc35c"/>
<rect x="1850.00" y="447.00" width="23" height="18.60" fill="#f07c62"/>
<rect x="1850.00" y="465.00" width="23" height="228.00" fill="#7b61ff"/>
<rect x="1850.00" y="692.40" width="23" height="1.80" fill="#8f63c8"/>
<rect x="1850.00" y="693.60" width="23" height="38.90" fill="#f8f56a"/>
</g>
<rect x="10" y="732" width="1866" height="1" fill="#e6e6ea"/>
<text class="yl" x="1882" y="740.6">0%</text>
<text class="yl" x="1882" y="677.4">10%</text>
<text class="yl" x="1882" y="614.1">20%</text>
<text class="yl" x="1882" y="550.9">30%</text>
<text class="yl" x="1882" y="487.6">40%</text>
<text class="yl" x="1882" y="424.4">50%</text>
<text class="yl" x="1882" y="361.1">60%</text>
<text class="yl" x="1882" y="297.9">70%</text>
<text class="yl" x="1882" y="234.6">80%</text>
<text class="yl" x="1882" y="171.3">90%</text>
<text class="yl" x="1882" y="108.1">100%</text>
<text class="xl" x="27.0" y="751.8" text-anchor="middle">Jan '21</text>
<text class="xl" x="84.9" y="751.8" text-anchor="middle">Mar '21</text>
<text class="xl" x="147.3" y="751.8" text-anchor="middle">May '21</text>
<text class="xl" x="209.7" y="751.8" text-anchor="middle">Jul '21</text>
<text class="xl" x="272.2" y="751.8" text-anchor="middle">Sep '21</text>
<text class="xl" x="334.6" y="751.8" text-anchor="middle">Nov '21</text>
<text class="xl" x="398.0" y="751.8" text-anchor="middle">Jan '22</text>
<text class="xl" x="458.4" y="751.8" text-anchor="middle">Mar '22</text>
<text class="xl" x="520.8" y="751.8" text-anchor="middle">May '22</text>
<text class="xl" x="583.3" y="751.8" text-anchor="middle">Jul '22</text>
<text class="xl" x="645.7" y="751.8" text-anchor="middle">Sep '22</text>
<text class="xl" x="708.1" y="751.8" text-anchor="middle">Nov '22</text>
<text class="xl" x="771.6" y="751.8" text-anchor="middle">Jan '23</text>
<text class="xl" x="832.0" y="751.8" text-anchor="middle">Mar '23</text>
<text class="xl" x="894.4" y="751.8" text-anchor="middle">May '23</text>
<text class="xl" x="956.8" y="751.8" text-anchor="middle">Jul '23</text>
<text class="xl" x="1019.2" y="751.8" text-anchor="middle">Sep '23</text>
<text class="xl" x="1081.7" y="751.8" text-anchor="middle">Nov '23</text>
<text class="xl" x="1145.1" y="751.8" text-anchor="middle">Jan '24</text>
<text class="xl" x="1206.5" y="751.8" text-anchor="middle">Mar '24</text>
<text class="xl" x="1269.0" y="751.8" text-anchor="middle">May '24</text>
<text class="xl" x="1331.4" y="751.8" text-anchor="middle">Jul '24</text>
<text class="xl" x="1393.8" y="751.8" text-anchor="middle">Sep '24</text>
<text class="xl" x="1456.2" y="751.8" text-anchor="middle">Nov '24</text>
<text class="xl" x="1519.7" y="751.8" text-anchor="middle">Jan '25</text>
<text class="xl" x="1580.1" y="751.8" text-anchor="middle">Mar '25</text>
<text class="xl" x="1642.5" y="751.8" text-anchor="middle">May '25</text>
<text class="xl" x="1704.9" y="751.8" text-anchor="middle">Jul '25</text>
<text class="xl" x="1767.4" y="751.8" text-anchor="middle">Sep '25</text>
<text class="xl" x="1829.8" y="751.8" text-anchor="middle">Nov '25</text>
<text class="xl" x="1861.5" y="751.8" text-anchor="middle">Dec '25</text>
</svg>
<div class="wm"><svg width="51.5" height="49" viewBox="0 0 51.5 49"><rect x="0" y="0" width="51.5" height="49" rx="4.5" fill="#fff"/><g fill="#05050a"><rect x="12.3" y="21" width="6" height="19.3"/><rect x="19.9" y="14.1" width="6" height="5.4"/><rect x="25.9" y="7.5" width="13.5" height="6"/><rect x="33.8" y="7.5" width="5.6" height="32.5"/><rect x="20.3" y="27.4" width="13.5" height="6"/></g></svg><span>Artemis</span></div>
<div class="legend"><span class="li" style="left:0.0px"><i style="background:#ff2020"></i>Africa</span><span class="li" style="left:78.0px"><i style="background:#4fd1c9"></i>Asia</span><span class="li" style="left:146.0px"><i style="background:#fdc35c"></i>Europe</span><span class="li" style="left:234.4px"><i style="background:#f07c62"></i>Latin America</span><span class="li" style="left:369.6px"><i style="background:#7b61ff"></i>North America</span><span class="li" style="left:509.0px"><i style="background:#8f63c8"></i>Oceania</span><span class="li" style="left:605.0px"><i style="background:#f8f56a"></i>Southeast Asia</span></div>
</body></html>
